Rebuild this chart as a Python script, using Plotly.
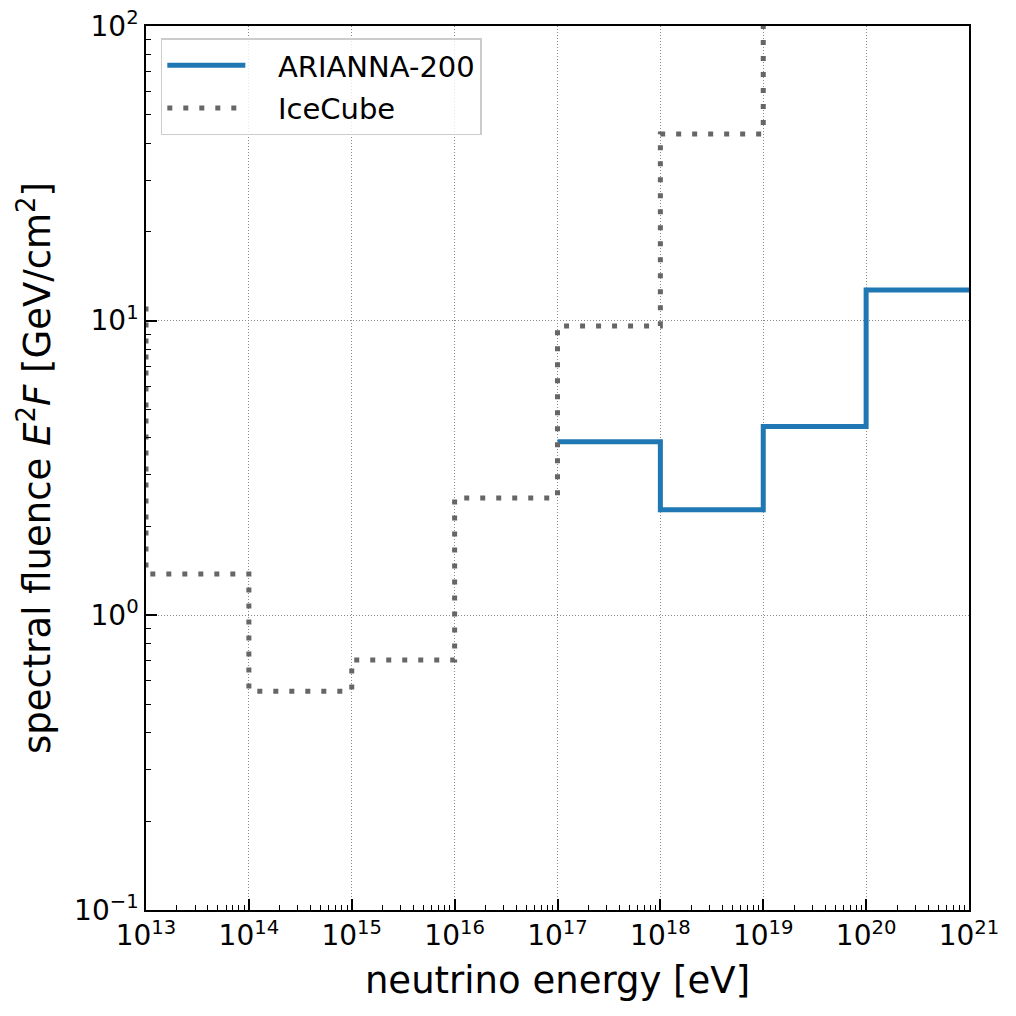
import plotly.graph_objects as go

# bin edges (eV) and step values (GeV/cm^2)
arianna_edges = [1e17, 1e18, 1e19, 1e20, 1e21]
arianna_vals = [3.88, 2.28, 4.37, 12.7]

icecube_edges = [1e12, 1e13, 1e14, 1e15, 1e16, 1e17, 1e18, 1e19, 1e20]
icecube_vals = [12.0, 1.38, 0.553, 0.705, 2.5, 9.6, 43.0, 400.0]

x_exps = [13, 14, 15, 16, 17, 18, 19, 20, 21]
y_exps = [-1, 0, 1, 2]


def steps(edges, vals):
    # hv step: value held from left edge to the next edge
    return list(edges), list(vals) + [vals[-1]]


def minor_vals(exps):
    out = []
    for e in exps[:-1]:
        for m in range(2, 10):
            out.append(m * 10.0 ** e)
    return out


FONT = "DejaVu Sans"
PAD = "\u00a0\u00a0\u00a0"  # gap between legend line and label

ax, ay = steps(arianna_edges, arianna_vals)
ix, iy = steps(icecube_edges, icecube_vals)

fig = go.Figure()
fig.add_trace(go.Scatter(x=ax, y=ay, mode="lines", name=PAD + "ARIANNA-200",
                         legendgroup="a",
                         line=dict(color="#1f77b4", width=5, shape="hv")))
fig.add_trace(go.Scatter(x=ix, y=iy, mode="lines", name=PAD + "IceCube",
                         legendgroup="b",
                         line=dict(color="#666666", width=5, shape="hv",
                                   dash="5px,11px")))

axis_common = dict(
    type="log",
    showline=True, linecolor="black", linewidth=1.5, mirror=True,
    ticks="inside", ticklen=11, tickwidth=1.5, tickcolor="black",
    showgrid=True, gridcolor="#8a8a8a", gridwidth=0.8, griddash="1px,2px",
    zeroline=False, ticklabeloverflow="allow",
    tickfont=dict(family=FONT, size=28, color="black"),
    minor=dict(ticks="inside", ticklen=5, tickwidth=1, tickcolor="black",
               showgrid=False, tickmode="array"),
)

# page body adds 8px margin, so the figure is 1000 px and the plot area
# is placed accordingly
fig.update_layout(
    width=1000, height=1000,
    margin=dict(l=138, r=39, t=18, b=98),
    paper_bgcolor="white", plot_bgcolor="white",
    font=dict(family=FONT, color="black"),
    showlegend=True,
    legend=dict(x=0.018, y=0.986, xanchor="left", yanchor="top",
                bgcolor="rgba(255,255,255,0.8)", bordercolor="#cccccc",
                borderwidth=1.5, font=dict(family=FONT, size=29),
                itemwidth=78, tracegroupgap=2),
)

fig.update_xaxes(**axis_common)
fig.update_xaxes(
    automargin="bottom",
    range=[x_exps[0], x_exps[-1]],
    tickmode="array",
    tickvals=[10.0 ** e for e in x_exps],
    ticktext=["10<sup>%d</sup>" % e for e in x_exps],
    minor_tickvals=minor_vals(x_exps),
    title=dict(text="neutrino energy [eV]", font=dict(family=FONT, size=37),
               standoff=16),
)
fig.update_yaxes(**axis_common)
fig.update_yaxes(
    automargin="left",
    range=[y_exps[0], y_exps[-1]],
    tickmode="array",
    tickvals=[10.0 ** e for e in y_exps],
    ticktext=["10<sup>%d</sup>" % e if e >= 0 else "10<sup>\u2212%d</sup>" % -e
              for e in y_exps],
    minor_tickvals=minor_vals(y_exps),
    title=dict(text="spectral fluence <i>E</i><sup>2</sup><i>F</i> [GeV/cm<sup>2</sup>]",
               font=dict(family=FONT, size=37), standoff=12),
)

fig.write_html("out.html")
